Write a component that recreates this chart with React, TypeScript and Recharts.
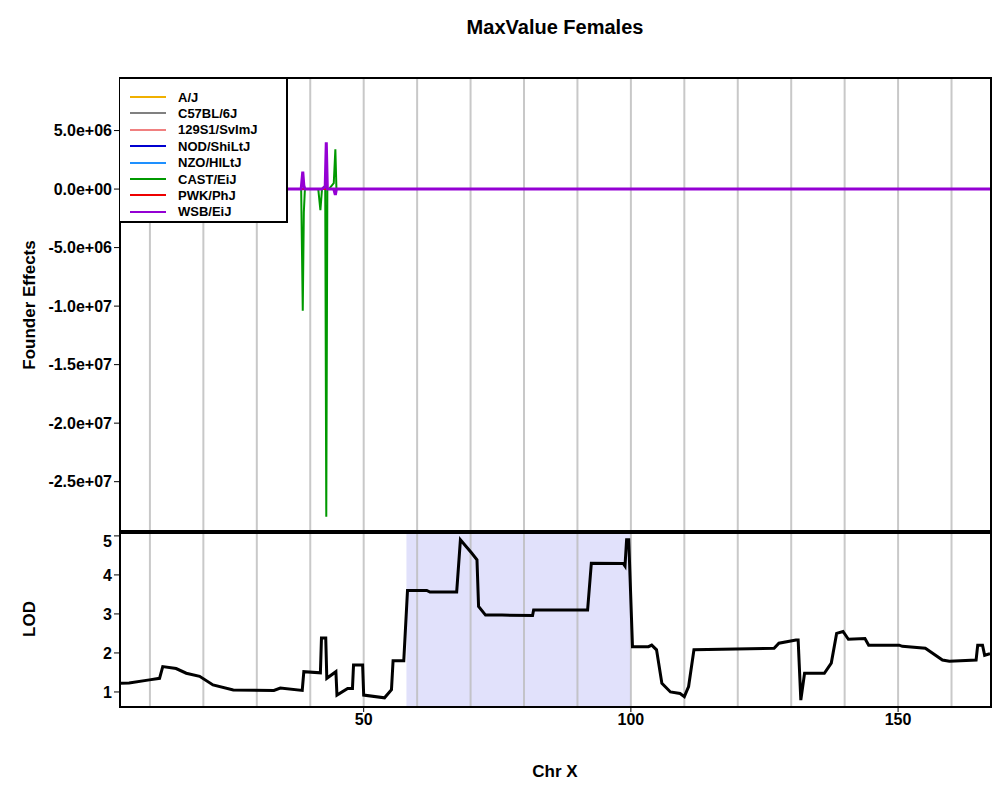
import React from "react";
import {
  LineChart,
  Line,
  XAxis,
  YAxis,
  ReferenceLine,
  ReferenceArea,
} from "recharts";

const FONT = "'Liberation Sans', Arial, sans-serif";

const founderNames = ["A/J", "C57BL/6J", "129S1/SvImJ", "NOD/ShiLtJ", "NZO/HlLtJ", "CAST/EiJ", "PWK/PhJ", "WSB/EiJ"];
const founderColors = ["#f0b000", "#808080", "#f08080", "#0000d0", "#1e90ff", "#009900", "#ee0000", "#9400d3"];

const effectPos = [4.4, 38.3, 38.6, 38.8, 39.0, 39.3, 41.5, 41.9, 42.2, 42.8, 43.0, 43.2, 43.5, 44.4, 44.7, 44.9, 45.2, 167.2];
const castEffect = [0, 0, -10.4e6, -2e6, 0, 0, 0, -1.8e6, 0, 0.3e6, -28e6, 0, 0, 0.5e6, 3.4e6, 0, 0, 0];
const wsbEffect = [0, 0, 1.5e6, 0.3e6, 0, 0, 0, 0, 0, 0.2e6, 4.0e6, 0, 0, 0, -0.5e6, 0, 0, 0];
const flatEffect = effectPos.map(() => 0);

const lodPos = [4.4, 6.1, 9.9, 11.8, 12.4, 14.9, 16.8, 19.3, 21.8, 25.6, 33.2, 34.4, 38.5, 38.8, 41.9, 42.1, 42.9, 43.1, 44.8, 45.0, 47.0, 47.9, 48.1, 49.8, 50.0, 53.9, 55.2, 55.5, 57.5, 58.2, 61.8, 62.4, 67.4, 68.1, 70.2, 71.2, 71.5, 72.8, 75.9, 81.6, 81.8, 86.6, 91.9, 92.6, 98.6, 98.9, 99.2, 99.6, 100.3, 103.3, 103.9, 104.8, 105.8, 107.4, 109.2, 110.0, 110.8, 111.8, 126.8, 127.7, 130.9, 131.3, 131.8, 132.5, 136.2, 137.5, 138.5, 139.7, 140.7, 143.8, 144.5, 150.2, 150.8, 155.1, 158.3, 159.6, 164.6, 164.9, 165.8, 166.2, 167.2];
const lodValues = [1.22, 1.23, 1.31, 1.35, 1.65, 1.6, 1.48, 1.4, 1.18, 1.05, 1.04, 1.1, 1.04, 1.52, 1.49, 2.38, 2.38, 1.35, 1.52, 0.92, 1.09, 1.09, 1.69, 1.69, 0.92, 0.85, 1.06, 1.8, 1.8, 3.6, 3.6, 3.56, 3.56, 4.9, 4.56, 4.39, 3.19, 2.97, 2.97, 2.96, 3.1, 3.1, 3.1, 4.3, 4.29, 4.23, 4.9, 4.9, 2.16, 2.16, 2.2, 2.08, 1.22, 1.0, 0.96, 0.88, 1.14, 2.08, 2.12, 2.25, 2.33, 2.33, 0.79, 1.48, 1.48, 1.74, 2.5, 2.55, 2.35, 2.37, 2.2, 2.2, 2.17, 2.12, 1.82, 1.79, 1.82, 2.2, 2.2, 1.94, 1.98];

const gridX = [10, 20, 30, 40, 50, 60, 70, 80, 90, 100, 110, 120, 130, 140, 150, 160];
const effectTicks = [5e6, 0, -5e6, -1e7, -1.5e7, -2e7, -2.5e7];
const lodTicks = [1, 2, 3, 4, 5];
const xTicks = [50, 100, 150];
const shade = [58, 100];

const effectData = effectPos.map((x, i) => {
  const row: Record<string, number> = { x };
  founderNames.forEach((n, k) => {
    row[n] = k === 5 ? castEffect[i] : k === 7 ? wsbEffect[i] : flatEffect[i];
  });
  return row;
});
const lodData = lodPos.map((x, i) => ({ x, lod: lodValues[i] }));

const fmtSci = (v: number) => {
  if (v === 0) return "0.0e+00";
  const s = v.toExponential(1);
  const [m, e] = s.split("e");
  const n = parseInt(e, 10);
  return `${m}e${n < 0 ? "-" : "+"}${String(Math.abs(n)).padStart(2, "0")}`;
};

const tickStyle = { fontSize: 16, fontWeight: "bold" as const, fill: "#000", fontFamily: FONT };
const DOMAIN: [number, number] = [4.4, 167.2];

export default function App() {
  return (
    <div style={{ position: "absolute", left: 0, top: 0, width: 1000, height: 800, background: "#fff", fontFamily: FONT }}>
      <div style={{ position: "absolute", left: 120, width: 870, top: 16, textAlign: "center", fontSize: 20, fontWeight: "bold" }}>
        MaxValue Females
      </div>
      <div style={{ position: "absolute", top: 0, left: 0 }}>
        <LineChart width={1000} height={532} data={effectData} margin={{ top: 78, right: 10, bottom: 0, left: 10 }}>
          <XAxis type="number" dataKey="x" domain={DOMAIN} hide allowDataOverflow />
          <YAxis
            type="number"
            domain={[-2.93e7, 9.49e6]}
            ticks={effectTicks}
            tickFormatter={fmtSci}
            tick={tickStyle}
            width={110}
            axisLine={false}
            tickLine={{ stroke: "#000" }}
            allowDataOverflow
          />
          {gridX.map((g) => (
            <ReferenceLine key={g} x={g} stroke="#c8c8c8" strokeWidth={2} />
          ))}
          {founderNames.map((n, k) => (
            <Line key={n} dataKey={n} type="linear" stroke={founderColors[k]} strokeWidth={k === 7 ? 3 : 2} dot={false} isAnimationActive={false} />
          ))}
        </LineChart>
      </div>
      <div style={{ position: "absolute", top: 532, left: 0 }}>
        <LineChart width={1000} height={268} data={lodData} margin={{ top: 0, right: 10, bottom: 54, left: 10 }}>
          <XAxis
            type="number"
            dataKey="x"
            domain={DOMAIN}
            ticks={xTicks}
            tick={tickStyle}
            height={40}
            axisLine={false}
            tickLine={{ stroke: "#000" }}
            allowDataOverflow
          />
          <YAxis
            type="number"
            domain={[0.64, 5.1]}
            ticks={lodTicks}
            tick={tickStyle}
            width={110}
            axisLine={false}
            tickLine={{ stroke: "#000" }}
            allowDataOverflow
          />
          <ReferenceArea x1={shade[0]} x2={shade[1]} fill="#e1e1fb" fillOpacity={1} stroke="none" />
          {gridX.map((g) => (
            <ReferenceLine key={g} x={g} stroke="#bbbbbb" strokeOpacity={0.8} strokeWidth={2} />
          ))}
          <Line dataKey="lod" type="linear" stroke="#000" strokeWidth={3} dot={false} isAnimationActive={false} />
        </LineChart>
      </div>
      <div style={{ position: "absolute", left: 119, top: 77, width: 869, height: 453, border: "2px solid #000" }} />
      <div style={{ position: "absolute", left: 119, top: 530, width: 869, height: 174, border: "2px solid #000" }} />
      <div style={{ position: "absolute", left: 120, top: 79, width: 166, height: 142, background: "#fff", borderRight: "2px solid #000", borderBottom: "2px solid #000" }}>
        {founderNames.map((n, k) => (
          <div key={n} style={{ position: "absolute", top: 10 + k * 16.4, left: 10, display: "flex", alignItems: "center", height: 16 }}>
            <div style={{ width: 36, height: 2, background: founderColors[k] }} />
            <span style={{ marginLeft: 12, fontSize: 13, fontWeight: "bold" }}>{n}</span>
          </div>
        ))}
      </div>
      <div style={{ position: "absolute", left: 30, top: 305, transform: "translate(-50%,-50%) rotate(-90deg)", fontSize: 17, fontWeight: "bold", whiteSpace: "nowrap" }}>
        Founder Effects
      </div>
      <div style={{ position: "absolute", left: 30, top: 619, transform: "translate(-50%,-50%) rotate(-90deg)", fontSize: 17, fontWeight: "bold", whiteSpace: "nowrap" }}>
        LOD
      </div>
      <div style={{ position: "absolute", left: 120, width: 870, top: 762, textAlign: "center", fontSize: 17, fontWeight: "bold" }}>
        Chr X
      </div>
    </div>
  );
}
